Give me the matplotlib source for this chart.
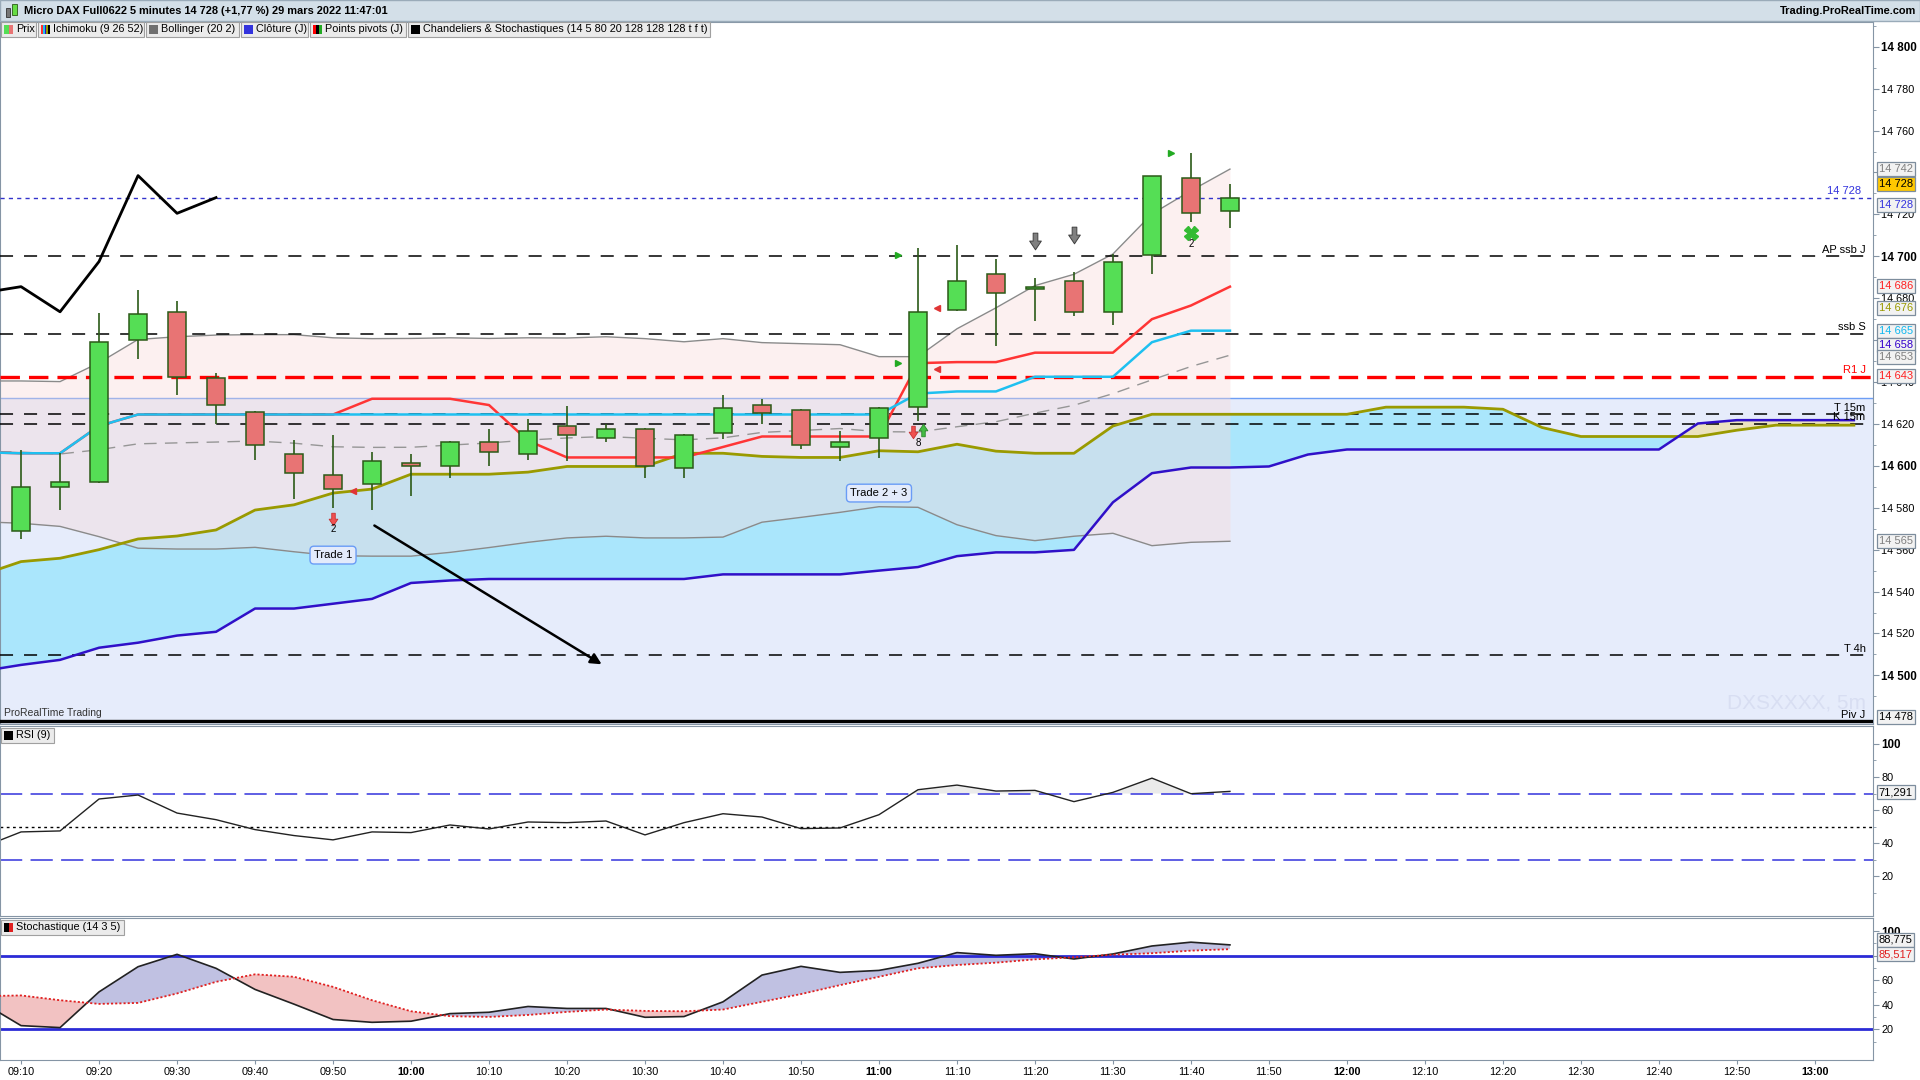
import numpy as np
import matplotlib.pyplot as plt
from matplotlib.patches import Rectangle
from matplotlib.path import Path
from matplotlib.transforms import blended_transform_factory as blend

plt.rcParams['font.family'] = ['Liberation Sans', 'DejaVu Sans']
plt.rcParams['lines.scale_dashes'] = False

# candles, 5 minutes, 09:10 .. 11:45
times = ['09:10', '09:15', '09:20', '09:25', '09:30', '09:35', '09:40', '09:45',
         '09:50', '09:55', '10:00', '10:05', '10:10', '10:15', '10:20', '10:25',
         '10:30', '10:35', '10:40', '10:45', '10:50', '10:55', '11:00', '11:05',
         '11:10', '11:15', '11:20', '11:25', '11:30', '11:35', '11:40', '11:45']
opens = [14569, 14590, 14592.5, 14660, 14673.5, 14642, 14625.5, 14605.5,
         14595.5, 14591.5, 14601.5, 14600, 14611.5, 14605.5, 14619, 14613.5,
         14617.5, 14599, 14615.5, 14629, 14626.5, 14609, 14613.5, 14628,
         14674.5, 14691.5, 14684.5, 14688, 14673.5, 14700.5, 14737.5, 14721.5]
highs = [14607.5, 14606, 14673, 14684, 14678.5, 14644.5, 14626, 14612.5,
         14614.5, 14606.5, 14605.5, 14612, 14617.5, 14622.5, 14628.5, 14620,
         14618, 14615, 14634, 14632, 14627, 14616.5, 14628, 14704,
         14705.5, 14698.5, 14689.5, 14692.5, 14701, 14738.5, 14749.5, 14734.5]
lows = [14565, 14579, 14592, 14651, 14634, 14620, 14603, 14584,
        14580, 14579, 14585.5, 14594, 14600, 14603, 14602.5, 14611.5,
        14594, 14594, 14613, 14620, 14608, 14602.5, 14603.5, 14621.5,
        14674, 14657, 14669, 14671.5, 14667, 14691.5, 14716.5, 14713.5]
closes = [14590, 14592.5, 14659, 14672.5, 14642.5, 14629, 14610, 14596.5,
          14589, 14602.5, 14600, 14611.5, 14606.5, 14616.5, 14614.5, 14617.5,
          14600, 14614.5, 14627.5, 14625, 14610, 14611.5, 14627.5, 14673.5,
          14688, 14682.5, 14685.5, 14673.5, 14697.5, 14738.5, 14720.5, 14728]

# indicators, first value is the 09:05 bar just off the left edge
tenkan = [14606.5, 14606, 14606, 14619, 14624.5, 14624.5, 14624.5, 14624.5,
          14624.5, 14624.5, 14632, 14632, 14632, 14629, 14612, 14604, 14604,
          14604, 14604, 14609, 14614, 14614, 14614, 14614, 14649, 14649.5,
          14649.5, 14654, 14654, 14654, 14670, 14676.5, 14685.5]
kijun = [14606.5, 14606, 14606, 14619] + [14624.5] * 20 + \
        [14634.5, 14635.5, 14635.5, 14642.5, 14642.5, 14642.5, 14659, 14664.5, 14664.5]
bb_upper = [14640.5, 14640.5, 14640.2, 14649.2, 14660.3, 14661.6, 14662.4, 14662.6,
            14662.6, 14661.1, 14660.7, 14660.8, 14661.1, 14660.8, 14661.1, 14661,
            14661.6, 14660.7, 14659.2, 14660.7, 14658.8, 14658.3, 14657.8, 14652.1,
            14652.1, 14665.4, 14675.4, 14686, 14691.4, 14701.1, 14720.2, 14731.3, 14741.6]
bb_lower = [14573.3, 14572.6, 14571.1, 14566.2, 14560.7, 14560.3, 14560.3, 14561.1,
            14559, 14557.1, 14556.9, 14556.9, 14558.7, 14561, 14563.5, 14565.6,
            14566.4, 14565.6, 14565.6, 14566, 14573.1, 14575.4, 14577.8, 14580.5,
            14580.2, 14571.9, 14566.7, 14564.3, 14566.4, 14567.8, 14561.9, 14563.5, 14564]
# senkou spans run 16 bars past the last candle (to the right edge)
ssa = [14548, 14554.3, 14555.9, 14560, 14565.1, 14566.5, 14569.4, 14578.9, 14581.4,
       14587, 14588.9, 14596, 14596, 14596, 14597, 14599.7, 14599.7, 14599.7,
       14606, 14606, 14604.5, 14604, 14604, 14607.2, 14606.7, 14610.3, 14607,
       14606, 14606, 14619, 14624.6, 14624.6, 14624.6, 14624.6, 14624.6, 14624.6,
       14628, 14628, 14628, 14627, 14618.3, 14614, 14614, 14614, 14614, 14617,
       14619.4, 14619.4, 14619.4]
ssb = [14502, 14505, 14507.4, 14513.2, 14515.6, 14519, 14520.8, 14531.9, 14531.9,
       14534.2, 14536.5, 14544.1, 14545.3, 14546, 14546, 14546, 14546, 14546,
       14546, 14548.2, 14548.2, 14548.2, 14548.2, 14550, 14551.7, 14556.9, 14558.7,
       14558.7, 14559.9, 14582.6, 14596.5, 14599.2, 14599.2, 14599.7, 14605.4,
       14607.8, 14607.8, 14607.8, 14607.8, 14607.8, 14607.8, 14607.8, 14607.8,
       14607.8, 14620.2, 14621.8, 14621.8, 14621.8, 14621.8]
rsi = [37.5, 46.8, 47.4, 66.7, 69.1, 58.2, 54.2, 48.2, 44.6, 42, 46.8, 46.4, 51,
       48.6, 52.8, 52.4, 53.4, 45, 52.4, 57.8, 55.8, 48.8, 49.2, 57.2, 72.3, 75.1,
       71.5, 71.9, 65.1, 70.7, 79.3, 69.9, 71.3]
stoch_k = [42, 23, 21.4, 50.5, 71, 81.1, 69.7, 52.5, 40.5, 28, 25.7, 26.6, 32.8,
           33.9, 38.6, 37, 37, 29.8, 30.4, 42.4, 64.2, 71.3, 66.4, 68, 73.8, 82.5,
           80.3, 81.6, 77.3, 81.4, 87.9, 91, 88.8]
stoch_d = [47, 47.6, 43.7, 40.7, 41.5, 49.2, 58.7, 64.8, 62.8, 54.6, 43.7, 34.7,
           30.7, 30.1, 31.7, 34.2, 36.1, 35, 34.7, 36.1, 42.4, 48.7, 56, 62.8, 69.7,
           72.4, 74.3, 77, 78.7, 80.8, 82, 84.1, 85.3]

daily_close = 14728
level_values = [14700, 14663, 14642.5, 14624.6, 14620.2, 14509.5, 14478]
level_names = ['AP ssb J', 'ssb S', 'R1 J', 'T 15m', 'K 15m', 'T 4h', 'Piv J']
zone_top = 14632.6

xtick_labels = ['09:10', '09:20', '09:30', '09:40', '09:50', '10:00', '10:10', '10:20',
                '10:30', '10:40', '10:50', '11:00', '11:10', '11:20', '11:30', '11:40',
                '11:50', '12:00', '12:10', '12:20', '12:30', '12:40', '12:50', '13:00']

price_boxes = ['14 742', '14 728', '14 728', '14 686', '14 676', '14 665', '14 658',
               '14 653', '14 643', '14 565', '14 478']
price_box_y = [14741.8, 14734.5, 14724.3, 14685.7, 14675.2, 14664.5, 14657.6,
               14651.9, 14642.9, 14564, 14480.2]
price_box_col = ['#808080', 'black', '#3333dd', '#ff2020', '#999900', '#10b8f0',
                 '#3300cc', '#808080', '#ff2020', '#808080', 'black']

W, H = 1920, 1080
XMIN, XMAX = -0.54, 47.49
EDGE = '#8595a5'

fig = plt.figure(figsize=(19.2, 10.8), dpi=100)
fig.patch.set_facecolor('white')


def panel(top, bottom, left=0, right=1873):
    a = fig.add_axes([left / W, 1 - bottom / H, (right - left) / W, (bottom - top) / H])
    a.set_xlim(XMIN, XMAX)
    for s in a.spines.values():
        s.set_color(EDGE)
    a.yaxis.tick_right()
    a.tick_params(axis='y', which='both', direction='out', color=EDGE, labelsize=7.8, pad=2)
    a.tick_params(axis='y', which='major', length=4)
    a.tick_params(axis='y', which='minor', length=2)
    a.tick_params(axis='x', bottom=False, labelbottom=False)
    return a


def set_right_ticks(a, ticks, minor, bold_every):
    a.set_yticks(ticks)
    a.set_yticklabels([f'{t:,}'.replace(',', ' ') for t in ticks])
    a.set_yticks(minor, minor=True)
    for lbl, t in zip(a.get_yticklabels(), ticks):
        if t % bold_every == 0:
            lbl.set_fontweight('bold')
            lbl.set_fontsize(8.4)


def value_box(a, y, txt, col, face='#f2f2f2'):
    a.text(1.003, y, txt, transform=blend(a.transAxes, a.transData), ha='left', va='center',
           fontsize=8, color=col, clip_on=False, zorder=10,
           bbox=dict(boxstyle='square,pad=0.18', fc=face, ec='#7d8d9d', lw=0.9))


def fig_rect(x0, y0, x1, y1, **kw):
    fig.patches.append(Rectangle((x0 / W, 1 - y1 / H), (x1 - x0) / W, (y1 - y0) / H,
                                 transform=fig.transFigure, **kw))


def legend_box(x0, x1, y0, y1, label, colors):
    fig_rect(x0, y0, x1, y1, fc='#ebebeb', ec='#a0a0a0', lw=0.8, zorder=5)
    n = len(colors)
    for k, col in enumerate(colors):
        fig_rect(x0 + 3 + k * 9 / n, y0 + 3, x0 + 3 + (k + 1) * 9 / n, y1 - 3, fc=col, lw=0, zorder=6)
    fig.text((x0 + 15) / W, 1 - (y0 + y1) / 2 / H, label, fontsize=7.8, va='center', zorder=7)


# block arrow marker (points down; flipped for up)
arrow_verts = [(-0.28, 1), (0.28, 1), (0.28, 0.05), (0.7, 0.05), (0, -1),
               (-0.7, 0.05), (-0.28, 0.05), (-0.28, 1)]
arrow_down = Path(arrow_verts, closed=True)
arrow_up = Path([(x, -y) for x, y in arrow_verts], closed=True)

# ---------------- main price panel
ax = panel(22, 724)
ax.set_ylim(14476.8, 14811.8)
set_right_ticks(ax, list(range(14500, 14801, 20)), list(range(14490, 14811, 10)), 100)

xb = np.arange(len(closes))
xi = np.arange(-1, len(tenkan) - 1)
xk = np.arange(-1, len(ssa) - 1)
ssa_a, ssb_a = np.array(ssa), np.array(ssb)

ax.axhspan(14470, zone_top, color='#e6ecfb', lw=0, zorder=0)
ax.axhline(zone_top, color='#6d9ef5', lw=1, zorder=0.5)
ax.fill_between(xk, ssa_a, ssb_a, where=ssa_a >= ssb_a, interpolate=True,
                color='#aae6fc', lw=0, zorder=1)
ax.fill_between(xk, ssa_a, ssb_a, where=ssa_a < ssb_a, interpolate=True,
                color='#ebe2bf', lw=0, zorder=1)
ax.fill_between(xi, bb_upper, bb_lower, color='#f8d8d8', alpha=0.38, lw=0, zorder=2)
ax.plot(xi, bb_upper, color='#8a8a8a', lw=1, zorder=3)
ax.plot(xi, bb_lower, color='#8a8a8a', lw=1, zorder=3)
ax.plot(xi, (np.array(bb_upper) + np.array(bb_lower)) / 2, color='#969696', lw=1,
        dashes=(9, 6), zorder=3)

for v, name in zip(level_values, level_names):
    col = 'black'
    if name == 'R1 J':
        col = '#ff0000'
        ax.axhline(v, color=col, lw=2.4, dashes=(14, 6.5), zorder=3)
    elif name == 'Piv J':
        ax.axhline(v, color=col, lw=2.4, zorder=3)
    else:
        ax.axhline(v, color=col, lw=1.1, dashes=(9.4, 7.9), zorder=3)
    ax.text(47.3, v + 0.7, name, ha='right', va='bottom', fontsize=8, color=col, zorder=8)

ax.axhline(daily_close, color='#3333cc', lw=1, dashes=(3, 3), zorder=3)
ax.text(47.18, daily_close + 0.7, '14 728', ha='right', va='bottom', fontsize=8,
        color='#3333dd', zorder=8)

ax.plot(xk, ssa, color='#9a9a00', lw=2, zorder=4)
ax.plot(xk, ssb, color='#3010c8', lw=1.8, zorder=4)
ax.plot(xi, tenkan, color='#ff3535', lw=1.8, zorder=4)
ax.plot(xi, kijun, color='#1ec0f0', lw=1.8, zorder=4.1)
# chikou: closes shifted back 26 bars
ax.plot(xb[25:] - 26, np.array(closes)[25:], color='black', lw=2, zorder=5)

o, h, l, c = map(np.array, (opens, highs, lows, closes))
ax.vlines(xb, l, h, color='#2b5a17', lw=1.2, zorder=5)
ax.bar(xb, np.maximum(np.abs(c - o), 0.8), bottom=np.minimum(o, c), width=0.44,
       color=np.where(c >= o, '#55de55', '#e87474'), edgecolor='#2b5a17', lw=1.1, zorder=6)

# order markers
ax.plot([22.5, 22.5, 29.5], [14700.7, 14649.2, 14749.2], ls='none', marker='>',
        ms=5, color='#22aa22', zorder=7)
ax.plot([23.5, 23.5, 8.5], [14675.4, 14646.4, 14588.2], ls='none', marker='<',
        ms=5, color='#e03535', zorder=7)
ax.plot([30], [14711.3], ls='none', marker='X', ms=10, color='#33bb33', zorder=7)
ax.plot([8, 22.88], [14574.7, 14616], ls='none', marker=arrow_down, ms=9,
        mfc='#f05050', mec='#c83030', mew=0.6, zorder=7)
ax.plot([23.12], [14617], ls='none', marker=arrow_up, ms=9,
        mfc='#44bb44', mec='#2a8a2a', mew=0.6, zorder=7)
ax.plot([26, 27], [14707.5, 14710], ls='none', marker=arrow_down, ms=12,
        mfc='#808080', mec='#404040', mew=0.7, zorder=7)

for x, y, t in [(8, 14569.8, '2'), (23, 14611, '8'), (30, 14706, '2')]:
    ax.text(x, y, t, ha='center', va='center', fontsize=7, zorder=8)

box = dict(boxstyle='round,pad=0.35', fc='#e3ebfb', ec='#6a9cf6', lw=1)
ax.text(8, 14557.4, 'Trade 1', ha='center', va='center', fontsize=8, bbox=box, zorder=8)
ax.text(22, 14587, 'Trade 2 + 3', ha='center', va='center', fontsize=8, bbox=box, zorder=8)

ax.annotate('', xy=(14.95, 14504.6), xytext=(9.0, 14572.2), zorder=8,
            arrowprops=dict(arrowstyle='-|>', color='black', lw=1.8, mutation_scale=16))

ax.text(47.3, 14487, 'DXSXXXX, 5m', ha='right', va='center', fontsize=15,
        color='#d8def2', zorder=1)
ax.text(0.002, 14479.5, 'ProRealTime Trading', transform=blend(ax.transAxes, ax.transData),
        ha='left', va='bottom', fontsize=7.5, color='#333333', zorder=8)

for y, txt, col in zip(price_box_y, price_boxes, price_box_col):
    face = '#ffc800' if (txt == '14 728' and col == 'black') else '#f2f2f2'
    value_box(ax, y, txt, col, face)

# ---------------- RSI panel
ax_rsi = panel(726, 916)
ax_rsi.set_ylim(-4, 110.8)
set_right_ticks(ax_rsi, [20, 40, 60, 80, 100], [10, 30, 50, 70, 90], 100)
rsi_a = np.array(rsi)
ax_rsi.fill_between(xi, rsi_a, 70, where=rsi_a > 70, interpolate=True, color='#ebebeb', lw=0)
ax_rsi.axhline(70, color='#3333dd', lw=1.1, dashes=(16, 6))
ax_rsi.axhline(30, color='#3333dd', lw=1.1, dashes=(16, 6))
ax_rsi.axhline(50, color='black', lw=1, dashes=(2, 2.5))
ax_rsi.plot(xi, rsi, color='#222222', lw=1)
value_box(ax_rsi, 70.7, '71,291', 'black')

# ---------------- stochastic panel
ax_sto = panel(918, 1060)
ax_sto.set_ylim(-5, 110.7)
set_right_ticks(ax_sto, [20, 40, 60, 80, 100], [10, 30, 50, 70, 90], 100)
k_a, d_a = np.array(stoch_k), np.array(stoch_d)
ax_sto.fill_between(xi, k_a, d_a, where=k_a >= d_a, interpolate=True, color='#c0c1e2', lw=0, zorder=1)
ax_sto.fill_between(xi, k_a, d_a, where=k_a < d_a, interpolate=True, color='#f2c2c2', lw=0, zorder=1)
ax_sto.axhline(80, color='#2b2bd6', lw=2, zorder=2)
ax_sto.axhline(20, color='#2b2bd6', lw=2, zorder=2)
ax_sto.plot(xi, stoch_k, color='#222222', lw=1.2, zorder=3)
ax_sto.plot(xi, stoch_d, color='#e02020', lw=1.3, dashes=(1.5, 1.5), zorder=3)
value_box(ax_sto, 92.8, '88,775', 'black')
value_box(ax_sto, 81.1, '85,517', '#e02020')

ax_sto.set_xticks(np.arange(0, 47, 2))
ax_sto.set_xticklabels(xtick_labels)
ax_sto.tick_params(axis='x', bottom=True, labelbottom=True, length=3, color=EDGE,
                   labelsize=7.8, pad=2)
for lbl in ax_sto.get_xticklabels():
    if lbl.get_text().endswith(':00'):
        lbl.set_fontweight('bold')

# ---------------- header and legends
fig_rect(0, 0, W, 21, fc='#d3dfe8', ec='#9aabb9', lw=1, zorder=4)
fig_rect(6, 8, 10, 17, fc='#777777', ec='#333333', lw=0.6, zorder=5)
fig_rect(12, 4, 17, 15, fc='#66dd44', ec='#2b5a17', lw=0.6, zorder=5)
fig.text(24 / W, 1 - 11 / H, 'Micro DAX Full0622 5 minutes 14 728 (+1,77 %) 29 mars 2022 11:47:01',
         fontsize=7.9, fontweight='bold', va='center', zorder=6)
fig.text(1916 / W, 1 - 11 / H, 'Trading.ProRealTime.com', fontsize=7.9, fontweight='bold',
         ha='right', va='center', zorder=6)

legend_box(1, 36, 22, 37, 'Prix', ['#55de55', '#e87474'])
legend_box(38, 144, 22, 37, 'Ichimoku (9 26 52)', ['#ff3030', '#1ec0f0', '#3010c8', '#9a9a00', 'black'])
legend_box(146, 239, 22, 37, 'Bollinger (20 2)', ['#707070'])
legend_box(241, 308, 22, 37, 'Clôture (J)', ['#3333dd'])
legend_box(310, 406, 22, 37, 'Points pivots (J)', ['#ff0000', 'black', '#22aa22'])
legend_box(408, 710, 22, 37, 'Chandeliers & Stochastiques (14 5 80 20 128 128 128 t f t)', ['black'])
legend_box(1, 54, 728, 743, 'RSI (9)', ['black'])
legend_box(1, 124, 920, 935, 'Stochastique (14 3 5)', ['black', '#e02020'])

fig.savefig('out.png', dpi=100)
